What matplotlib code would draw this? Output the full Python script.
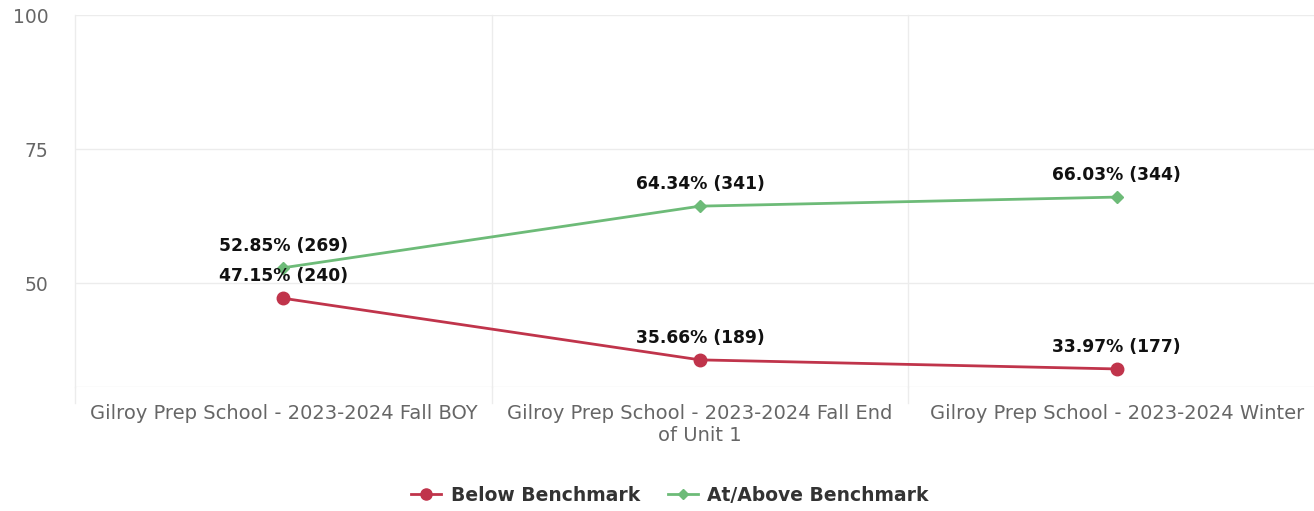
import matplotlib.pyplot as plt
from matplotlib.lines import Line2D

categories = [
    "Gilroy Prep School - 2023-2024 Fall BOY",
    "Gilroy Prep School - 2023-2024 Fall End\nof Unit 1",
    "Gilroy Prep School - 2023-2024 Winter",
]
below_pct = [47.15, 35.66, 33.97]
below_n = [240, 189, 177]
above_pct = [52.85, 64.34, 66.03]
above_n = [269, 341, 344]

red = "#c0344b"
green = "#6dbb78"
grid = "#ececec"

plt.rcParams['font.family'] = ['DejaVu Sans']

fig = plt.figure(figsize=(13.14, 5.11), dpi=100)
ax = fig.add_axes([75 / 1314, 1 - 387 / 511, 1250 / 1314, 372 / 511])

x = list(range(len(categories)))
ax.plot(x, below_pct, color=red, lw=2, marker="o", ms=9, zorder=3)
ax.plot(x, above_pct, color=green, lw=2, marker="D", ms=6, zorder=3)

for xi, p, n in zip(x, below_pct, below_n):
    ax.annotate(f"{p:.2f}% ({n})", (xi, p), xytext=(0, 13), textcoords="offset pixels",
                ha="center", va="bottom", fontsize=12.3, fontweight="bold", color="#111111")
for xi, p, n in zip(x, above_pct, above_n):
    ax.annotate(f"{p:.2f}% ({n})", (xi, p), xytext=(0, 13), textcoords="offset pixels",
                ha="center", va="bottom", fontsize=12.3, fontweight="bold", color="#111111")

ax.set_xlim(-0.5, 2.5)
ax.set_ylim(30.6, 100)
ax.set_yticks([50, 75, 100])
ax.set_xticks(x)
ax.set_xticklabels(categories, linespacing=1.2)
ax.tick_params(axis="y", length=0, pad=19, labelsize=13.5, labelcolor="#666666")
ax.tick_params(axis="x", length=0, pad=12, labelsize=14, labelcolor="#666666")

for s in ax.spines.values():
    s.set_visible(False)
ax.axhline(30.6, color=grid, lw=1, zorder=1)
for y in [50, 75, 100]:
    ax.axhline(y, color=grid, lw=1, zorder=1)
for b in [-0.5, 0.5, 1.5]:
    ax.plot([b, b], [30.6, 100], color=grid, lw=1, zorder=1, clip_on=False)
    ax.plot([b, b], [30.6, 30.6 - 16 / 5.36], color=grid, lw=1, zorder=1, clip_on=False)

handles = [
    Line2D([], [], color=red, lw=2, marker="o", ms=8),
    Line2D([], [], color=green, lw=2, marker="D", ms=5),
]
fig.legend(handles, ["Below Benchmark", "At/Above Benchmark"], loc="center",
           bbox_to_anchor=(670 / 1314, 1 - 495 / 511), ncol=2, frameon=False,
           prop={"weight": "bold", "size": 13.5}, labelcolor="#333333",
           handlelength=1.6, columnspacing=1.5, handletextpad=0.5)

fig.savefig("out.png", dpi=100)
